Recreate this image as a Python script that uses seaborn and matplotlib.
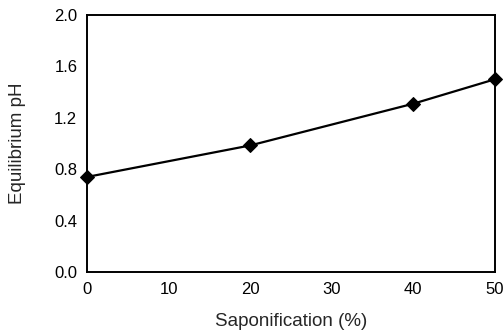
import numpy as np
import pandas as pd
import seaborn as sns
import matplotlib
matplotlib.use("Agg")
from matplotlib import pyplot as plt

# data
saponification = [0, 20, 40, 50]
equilibrium_ph = [0.74, 0.985, 1.31, 1.50]
x_ticks = [0, 10, 20, 30, 40, 50]
y_ticks = [0.0, 0.4, 0.8, 1.2, 1.6, 2.0]

sns.set_style("white")
plt.rcParams['font.family'] = ['Liberation Sans', 'DejaVu Sans']

df = pd.DataFrame({'Saponification (%)': saponification,
                   'Equilibrium pH': equilibrium_ph})

fig = plt.figure(figsize=(5.03, 3.33), dpi=100)
ax = fig.add_axes([0.173, 0.183, 0.811, 0.772])

sns.lineplot(data=df, x='Saponification (%)', y='Equilibrium pH', ax=ax,
             color='black', linewidth=1.6, marker='D', markersize=7,
             markeredgecolor='black', markerfacecolor='black', clip_on=False,
             zorder=5)

ax.set_xlim(0, 50)
ax.set_ylim(0, 2.0)
ax.set_xticks(x_ticks)
ax.set_yticks(y_ticks)
ax.set_yticklabels([f'{v:.1f}' for v in y_ticks])
ax.tick_params(direction='in', length=2, width=0.6, labelsize=12, pad=7,
               colors='black')

for s in ax.spines.values():
    s.set_color('black')
    s.set_linewidth(1.4)

ax.set_xlabel('Saponification (%)', fontsize=13.5, labelpad=12)
ax.set_ylabel('Equilibrium pH', fontsize=13.5, labelpad=20)

fig.savefig('out.png', dpi=100)
plt.close()
